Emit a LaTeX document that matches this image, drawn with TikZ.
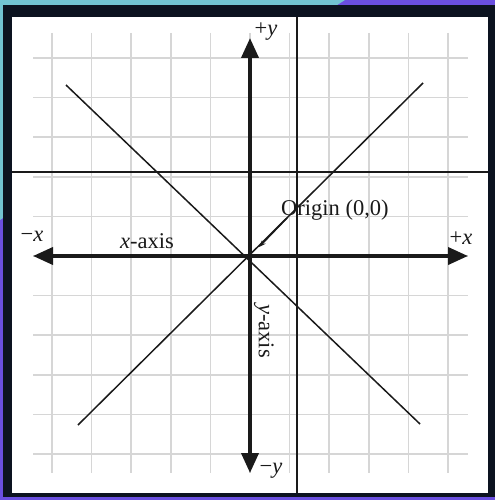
\documentclass[tikz,border=0pt]{standalone}
\usepackage{fontspec}
\setmainfont{Liberation Serif}
\usetikzlibrary{arrows.meta}
\definecolor{frameblue}{HTML}{0C1320}
\definecolor{cyanedge}{HTML}{72C4D2}
\definecolor{purpleedge}{HTML}{6A4FE0}
\definecolor{gridgray}{HTML}{D6D6D6}
\definecolor{ink}{HTML}{1A1A1A}
\tikzset{
  gridline/.style={gridgray, line width=1.6pt},
  thinline/.style={ink, line width=1.2pt},
  axisline/.style={ink, line width=3.8pt, -{Triangle[length=20pt,width=17pt]}},
  diag/.style={ink, line width=1.5pt},
  lbl/.style={text=ink, font=\fontsize{22.5}{24}\selectfont, inner sep=0pt},
}
\begin{document}
\begin{tikzpicture}[x=1pt,y=-1pt]
\useasboundingbox (0,0) rectangle (495,500);
% background frame
\fill[purpleedge] (0,0) rectangle (495,500);
\fill[cyanedge] (0,0) -- (345,0) -- (0,220) -- cycle;
\fill[frameblue] (3,5) rectangle (495,497);
\fill[white] (12,17) rectangle (488,493);
% grid
\foreach \k in {-5,...,5}{
  \draw[gridline] ({250+39.6*\k},33) -- ({250+39.6*\k},473);
  \draw[gridline] (33,{256+39.6*\k}) -- (468,{256+39.6*\k});
}
% extra thin lines
\coordinate (vtop) at (297,17);
\coordinate (vbot) at (297,493);
\coordinate (hleft) at (12,172);
\coordinate (hright) at (488,172);
\draw[thinline] (vtop) -- (vbot);
\draw[thinline] (hleft) -- (hright);
% diagonals
\coordinate (d1a) at (66,85);
\coordinate (d1b) at (420,424);
\coordinate (d2a) at (78,425);
\coordinate (d2b) at (423,83);
\draw[diag] (d1a) -- (d1b);
\draw[diag] (d2a) -- (d2b);
% axes
\coordinate (O) at (250,256);
\coordinate (xl) at (33,256);
\coordinate (xr) at (468,256);
\coordinate (yt) at (250,38);
\coordinate (yb) at (250,473);
\draw[axisline] (O) -- (xl);
\draw[axisline] (O) -- (xr);
\draw[axisline] (O) -- (yt);
\draw[axisline] (O) -- (yb);
% labels
\node[lbl] (py) at (266,32) {+\textit{y}};
\node[lbl] (my) at (271,471) {\textminus\textit{y}};
\node[lbl] (mx) at (32,236) {\textminus\textit{x}};
\node[lbl] (px) at (461,238) {+\textit{x}};
\node[lbl] (xax) at (147,241) {\textit{x}-axis};
\node[lbl, rotate=-90] (yax) at (264,331) {\textit{y}-axis};
\node[lbl, anchor=west] (orig) at (281,210) {Origin (0,0)};
% origin pointer
\coordinate (ptail) at (287,218);
\coordinate (phead) at (259,247);
\draw[ink, line width=1.5pt, -{Stealth[length=7pt,width=5pt]}] (ptail) -- (phead);
\end{tikzpicture}
\end{document}
